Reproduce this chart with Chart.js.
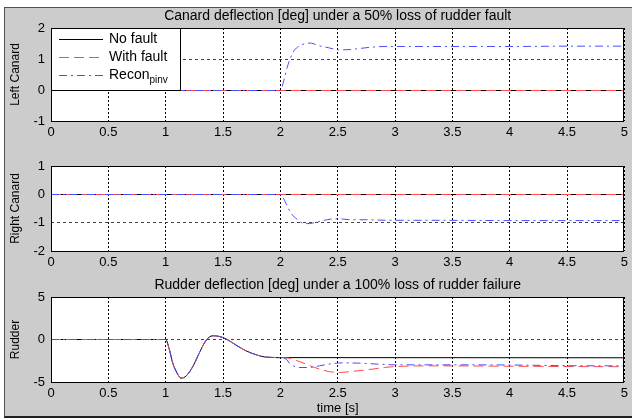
<!DOCTYPE html>
<html>
<head>
<meta charset="utf-8">
<script src="https://cdn.jsdelivr.net/npm/chart.js@4.4.1/dist/chart.umd.min.js"></script>
<style>
  html, body { margin: 0; padding: 0; background: #ffffff; }
  body { width: 632px; height: 420px; position: relative; overflow: hidden; }
  #fig {
    position: absolute; left: 4px; top: 7px; width: 628px; height: 408px;
    background: #cccccc;
    border-left: 1px solid #505050; border-top: 1px solid #505050; border-bottom: 2px solid #202020;
  }
  canvas { position: absolute; left: 0; }
</style>
</head>
<body>
<div id="fig"></div>
<canvas id="leftCanard" width="632" height="140" style="top:0px"></canvas>
<canvas id="rightCanard" width="632" height="132" style="top:140px"></canvas>
<canvas id="rudder" width="632" height="148" style="top:272px"></canvas>
<script>
// ---- series names and panel texts ----
const seriesNames = ['No fault', 'With fault', 'Recon'];
const reconSubscript = 'pinv';
const panelTitles = [
  'Canard deflection [deg] under a 50% loss of rudder fault',
  '',
  'Rudder deflection [deg] under a 100% loss of rudder failure'
];
const yLabels = ['Left Canard', 'Right Canard', 'Rudder'];
const xLabel = 'time [s]';

// ---- axis ranges / tick steps ----
const timeTicks = { min: 0, max: 5, step: 0.5 };
const leftTicks = { min: -1, max: 2, step: 1 };
const rightTicks = { min: -2, max: 1, step: 1 };
const rudderTicks = { min: -5, max: 5, step: 5 };

// ---- left canard [deg] ----
const leftNoFaultT = [0, 5];
const leftNoFaultY = [0, 0];
const leftFaultT = [0, 5];
const leftFaultY = [0, 0];
const leftReconT = [0, 2.0, 2.03, 2.06, 2.09, 2.12, 2.19, 2.26, 2.34, 2.42, 2.51, 2.60, 2.68, 2.80, 2.94, 3.1, 3.5, 4.0, 4.5, 5.0];
const leftReconY = [0, 0, 0.32, 0.75, 1.07, 1.29, 1.48, 1.53, 1.44, 1.38, 1.31, 1.32, 1.35, 1.40, 1.42, 1.42, 1.42, 1.42, 1.43, 1.43];

// ---- right canard [deg] ----
const rightNoFaultT = [0, 5];
const rightNoFaultY = [0, 0];
const rightFaultT = [0, 5];
const rightFaultY = [0, 0];
const rightReconT = [0, 2.0, 2.05, 2.09, 2.15, 2.21, 2.28, 2.35, 2.44, 2.51, 2.62, 2.74, 2.94, 3.3, 4.0, 5.0];
const rightReconY = [0, 0, -0.32, -0.64, -0.89, -1.03, -1.01, -0.94, -0.87, -0.86, -0.89, -0.89, -0.91, -0.91, -0.92, -0.92];

// ---- rudder [deg] ----
const rudderNoFaultT = [0, 1.0, 1.035, 1.06, 1.09, 1.136, 1.18, 1.24, 1.295, 1.35, 1.41, 1.47, 1.53, 1.61, 1.70, 1.79, 1.87, 1.99, 5.0];
const rudderNoFaultY = [0, 0, -1.33, -2.7, -3.7, -4.55, -4.27, -3.1, -1.53, -0.15, 0.44, 0.35, 0.04, -0.63, -1.33, -1.8, -2.07, -2.13, -2.15];
const rudderFaultT = [0, 1.0, 1.035, 1.06, 1.09, 1.136, 1.18, 1.24, 1.295, 1.35, 1.41, 1.47, 1.53, 1.61, 1.70, 1.79, 1.87, 1.99, 2.08, 2.15, 2.28, 2.42, 2.51, 2.62, 2.80, 2.91, 3.0, 3.38, 3.95, 4.53, 5.0];
const rudderFaultY = [0, 0, -1.33, -2.7, -3.7, -4.55, -4.27, -3.1, -1.53, -0.15, 0.44, 0.35, 0.04, -0.63, -1.33, -1.8, -2.07, -2.13, -2.2, -2.5, -3.2, -3.76, -3.88, -3.76, -3.49, -3.29, -3.18, -3.1, -3.14, -3.18, -3.2];
const rudderReconT = [0, 1.0, 1.035, 1.06, 1.09, 1.136, 1.18, 1.24, 1.295, 1.35, 1.41, 1.47, 1.53, 1.61, 1.70, 1.79, 1.87, 1.99, 2.05, 2.08, 2.16, 2.24, 2.34, 2.42, 2.54, 2.68, 2.86, 3.0, 3.5, 4.0, 4.5, 5.0];
const rudderReconY = [0, 0, -1.33, -2.7, -3.7, -4.55, -4.27, -3.1, -1.53, -0.15, 0.44, 0.35, 0.04, -0.63, -1.33, -1.8, -2.07, -2.13, -2.3, -2.78, -3.29, -3.3, -3.1, -2.9, -2.75, -2.78, -2.9, -2.98, -2.98, -3.0, -3.08, -3.1];

// ---- styling ----
const FONT = '"Liberation Sans", Arial, Helvetica, sans-serif';
const lineStyles = [
  { color: '#000000', dash: [] },
  { color: 'rgb(255,75,75)', dash: [10, 5] },
  { color: 'rgb(75,75,255)', dash: [8, 4, 2, 4] }
];

function toPoints(t, y) {
  return t.map((v, i) => ({ x: v, y: y[i] }));
}

// white plot background under the grid
const plotBackground = {
  id: 'plotBackground',
  beforeDraw(chart) {
    const { ctx, chartArea: a } = chart;
    ctx.save();
    ctx.fillStyle = '#ffffff';
    ctx.fillRect(a.left, a.top, a.right - a.left, a.bottom - a.top);
    ctx.restore();
  }
};

// sub-pixel nudge so the 1px traces land on whole pixel rows
const crispLines = {
  id: 'crispLines',
  beforeDatasetsDraw(chart, args, opts) {
    chart.ctx.save();
    chart.ctx.translate(0, (opts && opts.shift) || 0);
  },
  afterDatasetsDraw(chart) {
    chart.ctx.restore();
  }
};

// closed axes box drawn over the lines
const plotBox = {
  id: 'plotBox',
  afterDatasetsDraw(chart) {
    const { ctx, chartArea: a } = chart;
    ctx.save();
    ctx.strokeStyle = '#000000';
    ctx.lineWidth = 1;
    ctx.setLineDash([]);
    ctx.strokeRect(Math.round(a.left) + 0.5, Math.round(a.top) + 0.5,
                   Math.round(a.right - a.left) - 1, Math.round(a.bottom - a.top));
    ctx.restore();
  }
};

// panel title centred above the plot area
const panelTitle = {
  id: 'panelTitle',
  afterDraw(chart, args, opts) {
    if (!opts || !opts.text) return;
    const { ctx, chartArea: a } = chart;
    ctx.save();
    ctx.font = opts.size + 'px ' + FONT;
    ctx.fillStyle = '#000000';
    ctx.textAlign = 'center';
    ctx.textBaseline = 'middle';
    ctx.fillText(opts.text, (a.left + a.right) / 2, a.top - opts.offset);
    ctx.restore();
  }
};

// legend box placed in the upper-left corner of the plot area
const insetLegend = {
  id: 'insetLegend',
  afterDraw(chart, args, opts) {
    if (!opts || !opts.show) return;
    const { ctx, chartArea: a } = chart;
    const x0 = Math.round(a.left) + 0.5, y0 = Math.round(a.top) + 0.5;
    ctx.save();
    ctx.fillStyle = '#ffffff';
    ctx.fillRect(x0, y0, opts.width, opts.height);
    ctx.strokeStyle = '#000000';
    ctx.lineWidth = 1;
    ctx.setLineDash([]);
    ctx.strokeRect(x0, y0, opts.width, opts.height);
    seriesNames.forEach((name, i) => {
      const y = Math.round(a.top + opts.firstRow + i * opts.rowStep) + 0.5;
      ctx.lineWidth = 1;
      ctx.strokeStyle = lineStyles[i].color;
      ctx.setLineDash(lineStyles[i].dash);
      ctx.beginPath();
      ctx.moveTo(a.left + opts.sampleStart, y);
      ctx.lineTo(a.left + opts.sampleEnd, y);
      ctx.stroke();
      ctx.setLineDash([]);
      ctx.fillStyle = '#000000';
      ctx.font = opts.size + 'px ' + FONT;
      ctx.textAlign = 'left';
      ctx.textBaseline = 'middle';
      const tx = a.left + opts.textStart;
      ctx.fillText(name, tx, y);
      if (i === 2) {
        const w = ctx.measureText(name).width;
        ctx.font = opts.subSize + 'px ' + FONT;
        ctx.fillText(reconSubscript, tx + w, y + opts.subDrop);
      }
    });
    ctx.restore();
  }
};

function makePanel(id, series, ticks, cfg) {
  const datasets = series.map((s, i) => ({
    label: seriesNames[i],
    data: toPoints(s[0], s[1]),
    borderColor: lineStyles[i].color,
    borderDash: lineStyles[i].dash,
    borderWidth: 1,
    pointRadius: 0,
    fill: false,
    cubicInterpolationMode: 'monotone',
    order: 3 - i
  }));
  return new Chart(document.getElementById(id), {
    type: 'line',
    data: { datasets },
    plugins: [plotBackground, crispLines, plotBox, panelTitle, insetLegend],
    options: {
      responsive: false,
      animation: false,
      devicePixelRatio: 1,
      layout: { padding: { top: cfg.padTop, right: 5, bottom: 0, left: 0 } },
      plugins: {
        legend: { display: false },
        tooltip: { enabled: false },
        crispLines: { shift: cfg.shift },
        panelTitle: { text: cfg.title, size: 14, offset: 12 },
        insetLegend: {
          show: cfg.legend, width: 129, height: 62,
          firstRow: 11, rowStep: 18, sampleStart: 8, sampleEnd: 52,
          textStart: 58, size: 14, subSize: 10, subDrop: 5
        }
      },
      scales: {
        x: {
          type: 'linear',
          min: timeTicks.min, max: timeTicks.max,
          afterFit(scale) { scale.height = cfg.xHeight; },
          ticks: {
            stepSize: timeTicks.step, autoSkip: false, maxRotation: 0,
            color: '#000000', padding: 4,
            font: { family: FONT, size: 13 },
            callback: (v) => String(Math.round(v * 10) / 10)
          },
          grid: { color: '#000000', lineWidth: 1, drawTicks: false },
          border: { display: false, dash: [2, 2] },
          title: {
            display: !!cfg.xTitle, text: cfg.xTitle || '',
            color: '#000000', font: { family: FONT, size: 13 },
            padding: { top: 0, bottom: 4 }
          }
        },
        y: {
          type: 'linear',
          min: ticks.min, max: ticks.max,
          afterFit(scale) { scale.width = 51; },
          ticks: {
            stepSize: ticks.step, color: '#000000', padding: 6,
            font: { family: FONT, size: 13 },
            callback: (v) => String(Math.round(v))
          },
          grid: { color: '#444444', lineWidth: 1, drawTicks: false },
          border: { display: false, dash: [3, 3] },
          title: {
            display: true, text: cfg.yTitle, color: '#000000',
            font: { family: FONT, size: 12 },
            padding: { top: 8, bottom: 0 }
          }
        }
      }
    }
  });
}

makePanel('leftCanard',
  [[leftNoFaultT, leftNoFaultY], [leftFaultT, leftFaultY], [leftReconT, leftReconY]],
  leftTicks,
  { padTop: 28, xHeight: 19, shift: 0.5, title: panelTitles[0], yTitle: yLabels[0], legend: true });

makePanel('rightCanard',
  [[rightNoFaultT, rightNoFaultY], [rightFaultT, rightFaultY], [rightReconT, rightReconY]],
  rightTicks,
  { padTop: 26, xHeight: 21, shift: 0.17, title: panelTitles[1], yTitle: yLabels[1], legend: false });

makePanel('rudder',
  [[rudderNoFaultT, rudderNoFaultY], [rudderFaultT, rudderFaultY], [rudderReconT, rudderReconY]],
  rudderTicks,
  { padTop: 25, xHeight: 38, shift: 0, title: panelTitles[2], yTitle: yLabels[2], xTitle: xLabel, legend: false });
</script>
</body>
</html>
